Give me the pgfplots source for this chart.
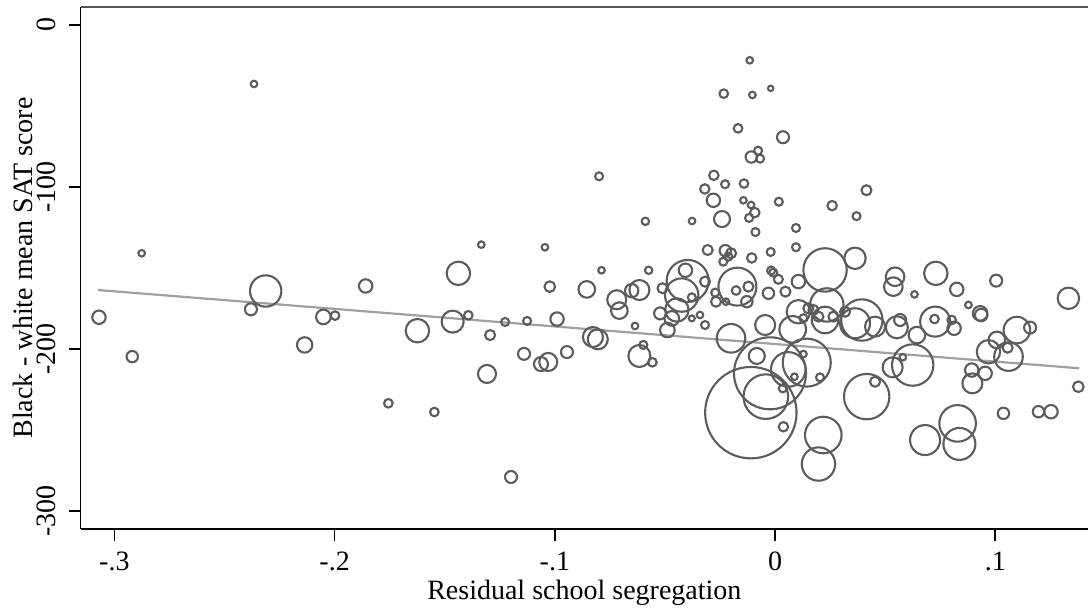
\documentclass[border=0pt]{standalone}
\usepackage{pgfplots}
\pgfplotsset{compat=1.18}
\usepackage{pgfplotstable}
\usepackage{fontspec}
\setmainfont{Liberation Serif}

\definecolor{circ}{RGB}{92,92,92}
\definecolor{fitgray}{RGB}{160,160,160}
\definecolor{framegray}{RGB}{85,85,85}

% x = residual segregation, y = gap, r = circle radius in px
\pgfplotstableread{
x y r
-0.2876 -140.9 3.3
-0.3070 -180.4 6.7
-0.2919 -204.7 5.7
-0.2313 -164.2 15.7
-0.2380 -175.5 6
-0.2366 -36.4 3.3
-0.1859 -161.1 6.7
-0.2051 -180.2 7.3
-0.1998 -179.4 4.3
-0.2136 -197.5 7.7
-0.1756 -233.5 4.3
-0.1547 -238.9 4.3
-0.1624 -188.7 11.7
-0.1438 -153.3 11.7
-0.1464 -183.1 11
-0.1393 -179.2 4.3
-0.1308 -215.4 9
-0.1294 -191.4 5
-0.1226 -183.3 4
-0.1126 -182.7 4
-0.1140 -203.0 6
-0.1063 -209.3 7
-0.1030 -208.0 9
-0.0990 -181.5 6.7
-0.0945 -201.9 6
-0.1199 -279.0 6
-0.0827 -192.6 10
-0.0805 -194.0 10
-0.0115 -21.8 3.3
-0.0233 -42.4 4.3
-0.0103 -43.2 3.3
-0.0020 -39.1 2.7
-0.0168 -63.8 4.3
0.0036 -69.3 6
-0.0077 -77.6 4
-0.0108 -81.5 5.7
-0.0068 -82.5 4
-0.0799 -93.4 4
-0.0278 -92.8 4.7
-0.0227 -98.3 4
-0.0141 -97.9 4.3
-0.0319 -101.2 4.7
-0.0280 -108.2 6.7
-0.0144 -108.2 3.3
-0.0109 -111.1 3.3
-0.0092 -115.8 4.7
-0.0118 -119.1 4
0.0017 -109.1 4
0.0259 -111.5 4.7
0.0415 -102.0 5
0.0370 -118.0 4
-0.0241 -119.8 8
-0.0589 -121.2 3.7
-0.0377 -121.0 3.3
-0.0089 -127.8 4
0.0095 -125.3 4
0.0095 -137.2 4
-0.1334 -135.6 3.3
-0.1045 -137.2 3.3
-0.0306 -138.9 5
-0.0226 -139.3 5.7
-0.0200 -140.9 5
-0.0212 -143.0 4
-0.0235 -146.1 4
-0.0106 -143.8 4.7
-0.0020 -140.1 4
-0.1023 -161.5 5.3
-0.0855 -163.2 8.3
-0.0788 -151.4 3.3
-0.0574 -151.4 3.7
-0.0397 -158.0 21
-0.0407 -151.4 6.7
-0.0318 -158.4 5
-0.0171 -161.5 19
0.0227 -151.2 21.7
-0.0121 -161.5 5
-0.0177 -163.9 4.3
-0.0018 -151.6 4
-0.0008 -152.9 4
0.0015 -157.0 4.5
0.0106 -158.4 6.7
-0.0030 -165.6 5.7
0.0047 -164.6 5
-0.0511 -162.5 5
-0.0651 -164.0 6.7
-0.0616 -163.6 10
-0.0719 -169.6 9.5
-0.0707 -176.3 8.3
-0.0636 -185.8 3.3
-0.0522 -178.0 6
-0.0469 -181.1 7.3
-0.0489 -188.3 7.3
-0.0446 -175.9 11.7
-0.0424 -166.7 16.7
-0.0378 -168.1 4
-0.0378 -181.1 3
-0.0341 -179.0 3.3
-0.0318 -185.2 4
-0.0272 -165.2 4
-0.0268 -170.8 5
-0.0223 -170.8 3.3
-0.0128 -170.8 5.7
-0.0200 -193.4 14.3
-0.0045 -185.2 10
0.0363 -144.0 10.7
0.0106 -177.0 11.7
0.0080 -187.9 13.3
0.0151 -174.9 5
0.0174 -175.9 5
0.0129 -181.0 4
0.0197 -180.0 5
0.0235 -172.8 16.7
0.0227 -182.1 13.3
0.0265 -180.0 5
0.0318 -177.0 5
0.0394 -182.1 20.7
0.0363 -184.1 15
0.0454 -186.2 10
0.0553 -186.6 11
0.0568 -182.1 6
0.0537 -161.5 9.3
0.0545 -155.4 9.3
0.0633 -166.3 3.3
0.0730 -153.3 11.7
0.0825 -163.2 6.7
0.1004 -157.8 6
0.1332 -168.7 10.7
0.0727 -183.1 15
0.0724 -181.5 4.3
0.0644 -191.4 8.3
0.0802 -182.1 4.3
0.0813 -187.2 6.7
0.0878 -172.8 3.3
0.0931 -178.0 7.3
0.0936 -179.0 6.3
0.1098 -188.3 13.3
0.1158 -186.8 6
0.1007 -194.4 8.3
0.0969 -201.7 11.7
0.1060 -204.7 14.3
0.1056 -199.2 5
0.0893 -213.0 6.7
0.0954 -215.0 6.7
0.0896 -221.2 10
0.1377 -223.3 5.3
0.1037 -239.7 5.7
0.1196 -238.7 5.7
0.1253 -238.7 6.7
0.0829 -245.9 18.3
0.0681 -256.2 15
0.0837 -258.6 16
0.0625 -209.9 20.7
0.0534 -211.3 10
0.0580 -205.1 3.3
0.0416 -229.4 22.7
0.0454 -220.2 5
0.0219 -253.1 18.3
0.0197 -271.0 16.7
-0.0110 -239.3 45.7
-0.0023 -215.0 36
-0.0042 -229.4 22.3
-0.0083 -204.3 8
0.0144 -208.4 24
0.0060 -212.6 17.3
0.0204 -217.5 4
0.0035 -224.3 4
0.0038 -248.0 4.7
0.0088 -217.1 3.3
0.0129 -203.1 3.3
-0.0598 -197.5 4
-0.0616 -204.3 11
-0.0557 -208.2 4.3
}\schools

\begin{document}
\begin{tikzpicture}
\begin{axis}[
  scale only axis,
  width=503.65pt, height=261pt,
  xmin=-0.3153, xmax=0.1421,
  ymin=-311.1, ymax=11.1,
  axis lines*=left,
  axis line style={black, line width=0.8pt},
  tick align=outside,
  major tick length=6pt,
  tick style={black, line width=0.8pt},
  font=\fontsize{14}{16}\selectfont,
  xtick={-0.3,-0.2,-0.1,0,0.1},
  xticklabels={-.3,-.2,-.1,0,.1},
  ytick={-300,-200,-100,0},
  yticklabels={-300,-200,-100,0},
  xticklabel shift=1.8pt,
  yticklabel style={rotate=90, anchor=base},
  yticklabel shift=6.8pt,
  xlabel={Residual school segregation},
  ylabel={Black - white mean SAT score},
  xlabel style={at={(axis description cs:0.5,-0.136)}, anchor=base},
  ylabel style={at={(axis description cs:-0.0474,0.5)}, rotate=0, anchor=base},
]
\addplot[scatter, only marks, mark=o,
  scatter/use mapped color={draw=circ},
  mark options={line width=1.05pt},
  visualization depends on={\thisrow{r} \as \rpx},
  scatter/@pre marker code/.append style={/tikz/mark size=0.5*\rpx}]
  table[x=x, y=y] {\schools};
\addplot[fitgray, line width=1.1pt] coordinates {(-0.3074,-163.6) (0.1381,-211.9)};
\draw[framegray, line width=0.9pt] (rel axis cs:0,1) -- (rel axis cs:1,1);
\end{axis}
\pgfresetboundingbox
\path[use as bounding box] ([shift={(-40.35pt,-41pt)}]current axis.south west)
  rectangle ([shift={(0pt,3.5pt)}]current axis.north east);
\end{tikzpicture}
\end{document}
